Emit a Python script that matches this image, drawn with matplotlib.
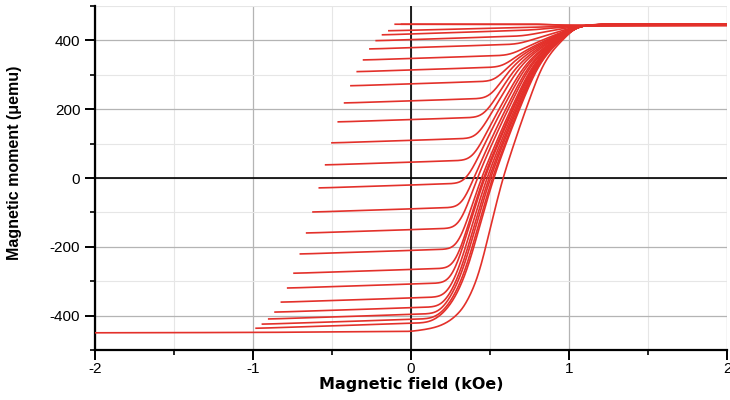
import numpy as np
import matplotlib
matplotlib.use("Agg")
import matplotlib.pyplot as plt
from matplotlib.ticker import MultipleLocator

plt.rcParams['font.family'] = ['Liberation Sans', 'DejaVu Sans']
plt.rcParams['axes.unicode_minus'] = False

# outer ascending branch (field in kOe, moment in uemu)
h_major = [-2.0, -1.0, 0.0, 0.05, 0.12, 0.18, 0.25, 0.33, 0.40, 0.44, 0.50,
           0.58, 0.70, 0.82, 0.88, 0.94, 1.05, 1.20, 2.0]
m_major = [-450, -449, -446, -443, -438, -431, -415, -381, -318, -265, -148,
           0, 166, 317, 362, 393, 442, 447, 447]

# reversal curves: reversal field, moment at reversal, field where the curve turns up
h_rev = [-0.98, -0.94, -0.90, -0.86, -0.82, -0.78, -0.74, -0.70, -0.66, -0.62,
         -0.58, -0.54, -0.50, -0.46, -0.42, -0.38, -0.34, -0.30, -0.26, -0.22,
         -0.18, -0.14, -0.10, -0.06]
m_rev = [-437, -425, -410, -390, -361, -320, -277, -221, -160, -99,
         -29, 38, 102, 163, 218, 268, 309, 343, 375, 399,
         416, 425, 434, 437]
h_knee = [0.12, 0.15, 0.17, 0.20, 0.22, 0.25, 0.28, 0.30, 0.31, 0.33,
          0.35, 0.39, 0.42, 0.46, 0.50, 0.54, 0.58, 0.63, 0.68, 0.71,
          0.75, 0.78, 0.80, 0.82]

m_sat = 447
h_conv = 1.05      # field where the curves come together
slope = 15         # reversible slope along the flat part
step = 0.0025      # field step of the drawn curves
red = '#e3302a'


def smooth(m, sigma):
    # gaussian running mean along the field axis, ends held fixed
    n = int(4 * sigma / step)
    x = np.arange(-n, n + 1) * step
    w = np.exp(-0.5 * (x / sigma) ** 2)
    w /= w.sum()
    padded = np.pad(m, n, mode='edge')
    return np.convolve(padded, w, mode='valid')


fig = plt.figure(figsize=(7.3, 4.0), dpi=100)
ax = fig.add_axes([0.130, 0.125, 0.866, 0.86])

h = np.arange(-2.0, 2.0 + step / 2, step)
ax.plot(h, smooth(np.interp(h, h_major, m_major), 0.03), color=red, lw=1.2, zorder=3)

for hr, m0, hk in zip(h_rev, m_rev, h_knee):
    h = np.arange(hr, 2.0 + step / 2, step)
    flat = m0 + slope * (np.minimum(h, hk) - hr)
    flat = np.minimum(flat, m_sat - 3)
    m_knee = m0 + slope * (hk - hr)
    h_eq = np.interp(m_knee, m_major[:-1], h_major[:-1])
    r = (h_conv - h_eq) / (h_conv - hk)
    rise = np.interp(h_conv - (h_conv - h) * r, h_major, m_major)
    m = smooth(np.maximum(flat, rise), 0.045)
    ax.plot(h, np.minimum(m, m_sat), color=red, lw=1.2, zorder=3)

ax.set_xlim(-2, 2)
ax.set_ylim(-500, 500)
ax.xaxis.set_major_locator(MultipleLocator(1))
ax.xaxis.set_minor_locator(MultipleLocator(0.5))
ax.yaxis.set_major_locator(MultipleLocator(200))
ax.yaxis.set_minor_locator(MultipleLocator(100))

ax.grid(which='major', color='#b4b4b4', lw=0.9)
ax.grid(which='minor', color='#e6e6e6', lw=0.8)
ax.set_axisbelow(True)
ax.axhline(0, color='black', lw=1.2, zorder=2)
ax.axvline(0, color='black', lw=1.2, zorder=2)

for side in ('top', 'right'):
    ax.spines[side].set_visible(False)
for side in ('left', 'bottom'):
    ax.spines[side].set_linewidth(1.6)
ax.tick_params(which='major', direction='out', length=7, width=1.4, labelsize=11)
ax.tick_params(axis='x', which='major', pad=1.5)
ax.tick_params(which='minor', direction='out', length=3.5, width=1.2)

ax.set_xlabel('Magnetic field (kOe)', fontsize=11.5, fontweight='bold',
              family=['DejaVu Sans'], labelpad=1)
ax.set_ylabel('Magnetic moment (\u03bcemu)', fontsize=11.5, fontweight='bold')
ax.yaxis.set_label_coords(-0.115, 0.545)

fig.savefig('out.png', dpi=100)
